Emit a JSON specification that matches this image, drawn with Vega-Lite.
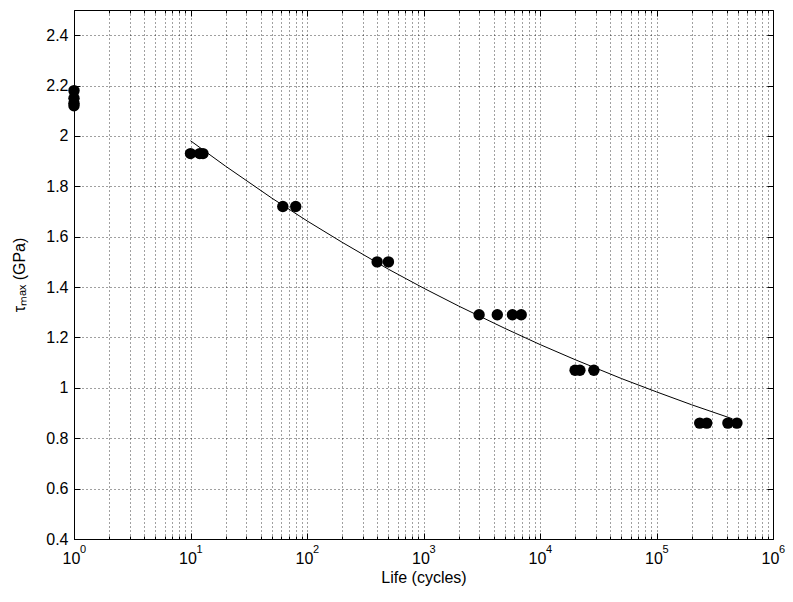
{
  "$schema": "https://vega.github.io/schema/vega-lite/v6.json",
  "width": 699,
  "height": 529,
  "autosize": "none",
  "padding": {"left": 74, "top": 10, "right": 20, "bottom": 63},
  "background": "white",
  "config": {
    "view": {"stroke": "#000", "strokeWidth": 1},
    "font": "Liberation Sans",
    "axis": {
      "labelFont": "Liberation Sans",
      "titleFont": "Liberation Sans",
      "labelColor": "#000",
      "titleColor": "#000",
      "titleFontWeight": "normal",
      "domain": false,
      "tickColor": "#000",
      "gridColor": "#000",
      "gridDash": [1, 3],
      "gridOpacity": 0.75,
      "gridWidth": 1
    }
  },
  "datasets": {
    "pts": [
      {"N": 1, "tau": 2.18},
      {"N": 1, "tau": 2.15},
      {"N": 1, "tau": 2.13},
      {"N": 1, "tau": 2.12},
      {"N": 10, "tau": 1.93},
      {"N": 12, "tau": 1.93},
      {"N": 12.8, "tau": 1.93},
      {"N": 62, "tau": 1.72},
      {"N": 80, "tau": 1.72},
      {"N": 400, "tau": 1.5},
      {"N": 500, "tau": 1.5},
      {"N": 3000, "tau": 1.29},
      {"N": 4300, "tau": 1.29},
      {"N": 5800, "tau": 1.29},
      {"N": 6900, "tau": 1.29},
      {"N": 20000, "tau": 1.07},
      {"N": 22000, "tau": 1.07},
      {"N": 29000, "tau": 1.07},
      {"N": 235000, "tau": 0.86},
      {"N": 270000, "tau": 0.86},
      {"N": 410000, "tau": 0.86},
      {"N": 490000, "tau": 0.86}
    ],
    "fit": [
      {"N": 10, "tau": 1.981},
      {"N": 20, "tau": 1.88},
      {"N": 50, "tau": 1.753},
      {"N": 100, "tau": 1.663},
      {"N": 200, "tau": 1.578},
      {"N": 500, "tau": 1.471},
      {"N": 1000, "tau": 1.396},
      {"N": 2000, "tau": 1.325},
      {"N": 5000, "tau": 1.236},
      {"N": 10000, "tau": 1.172},
      {"N": 20000, "tau": 1.112},
      {"N": 50000, "tau": 1.037},
      {"N": 100000, "tau": 0.984},
      {"N": 200000, "tau": 0.933},
      {"N": 450000, "tau": 0.877}
    ],
    "exps": [
      {"N": 1, "tau": 0.4, "e": "0"},
      {"N": 10, "tau": 0.4, "e": "1"},
      {"N": 100, "tau": 0.4, "e": "2"},
      {"N": 1000, "tau": 0.4, "e": "3"},
      {"N": 10000, "tau": 0.4, "e": "4"},
      {"N": 100000, "tau": 0.4, "e": "5"},
      {"N": 1000000, "tau": 0.4, "e": "6"}
    ]
  },
  "resolve": {"axis": {"x": "independent", "y": "independent"}},
  "layer": [
    {
      "data": {"name": "fit"},
      "mark": {"type": "line", "color": "#000", "strokeWidth": 1},
      "encoding": {
        "x": {
          "field": "N", "type": "quantitative",
          "scale": {"type": "log", "domain": [1, 1000000], "nice": false},
          "axis": {
            "orient": "bottom",
            "title": "Life (cycles)",
            "titleFontSize": 16,
            "titlePadding": 0,
            "values": [1,2,3,4,5,6,7,8,9,10,20,30,40,50,60,70,80,90,100,200,300,400,500,600,700,800,900,1000,2000,3000,4000,5000,6000,7000,8000,9000,10000,20000,30000,40000,50000,60000,70000,80000,90000,100000,200000,300000,400000,500000,600000,700000,800000,900000,1000000],
            "grid": true,
            "tickSize": {"condition": {"test": "indexof([1,10,100,1000,10000,100000,1000000], datum.value) >= 0", "value": -6}, "value": -3},
            "labelExpr": "indexof([1,10,100,1000,10000,100000,1000000], datum.value) >= 0 ? '10' : ''",
            "labelFontSize": 16,
            "labelPadding": 17,
            "labelOffset": -3,
            "labelFlush": false,
            "labelOverlap": false
          }
        },
        "y": {
          "field": "tau", "type": "quantitative",
          "scale": {"domain": [0.4, 2.5], "nice": false, "zero": false},
          "axis": {
            "orient": "left",
            "title": "τₘₐₓ (GPa)",
            "titleFontSize": 16,
            "titlePadding": 18,
            "values": [0.4,0.6,0.8,1,1.2,1.4,1.6,1.8,2,2.2,2.4],
            "format": "~g",
            "grid": true,
            "tickSize": -6,
            "labelFontSize": 16,
            "labelPadding": 12,
            "labelFlush": false,
            "labelOverlap": false
          }
        }
      }
    },
    {
      "data": {"name": "pts"},
      "mark": {"type": "circle", "color": "#000", "opacity": 1, "size": 130},
      "encoding": {
        "x": {
          "field": "N", "type": "quantitative",
          "axis": {
            "orient": "top",
            "title": null,
            "values": [1,2,3,4,5,6,7,8,9,10,20,30,40,50,60,70,80,90,100,200,300,400,500,600,700,800,900,1000,2000,3000,4000,5000,6000,7000,8000,9000,10000,20000,30000,40000,50000,60000,70000,80000,90000,100000,200000,300000,400000,500000,600000,700000,800000,900000,1000000],
            "grid": false,
            "labels": false,
            "tickSize": {"condition": {"test": "indexof([1,10,100,1000,10000,100000,1000000], datum.value) >= 0", "value": -6}, "value": -3}
          }
        },
        "y": {
          "field": "tau", "type": "quantitative",
          "axis": {
            "orient": "right",
            "title": null,
            "values": [0.4,0.6,0.8,1,1.2,1.4,1.6,1.8,2,2.2,2.4],
            "grid": false,
            "labels": false,
            "tickSize": -6
          }
        }
      }
    },
    {
      "data": {"name": "exps"},
      "mark": {"type": "text", "font": "Liberation Sans", "fontSize": 11, "color": "#000", "align": "center", "baseline": "middle", "dx": 9, "dy": 11, "clip": false},
      "encoding": {
        "x": {"field": "N", "type": "quantitative", "axis": null},
        "y": {"field": "tau", "type": "quantitative", "axis": null},
        "text": {"field": "e"}
      }
    }
  ]
}
